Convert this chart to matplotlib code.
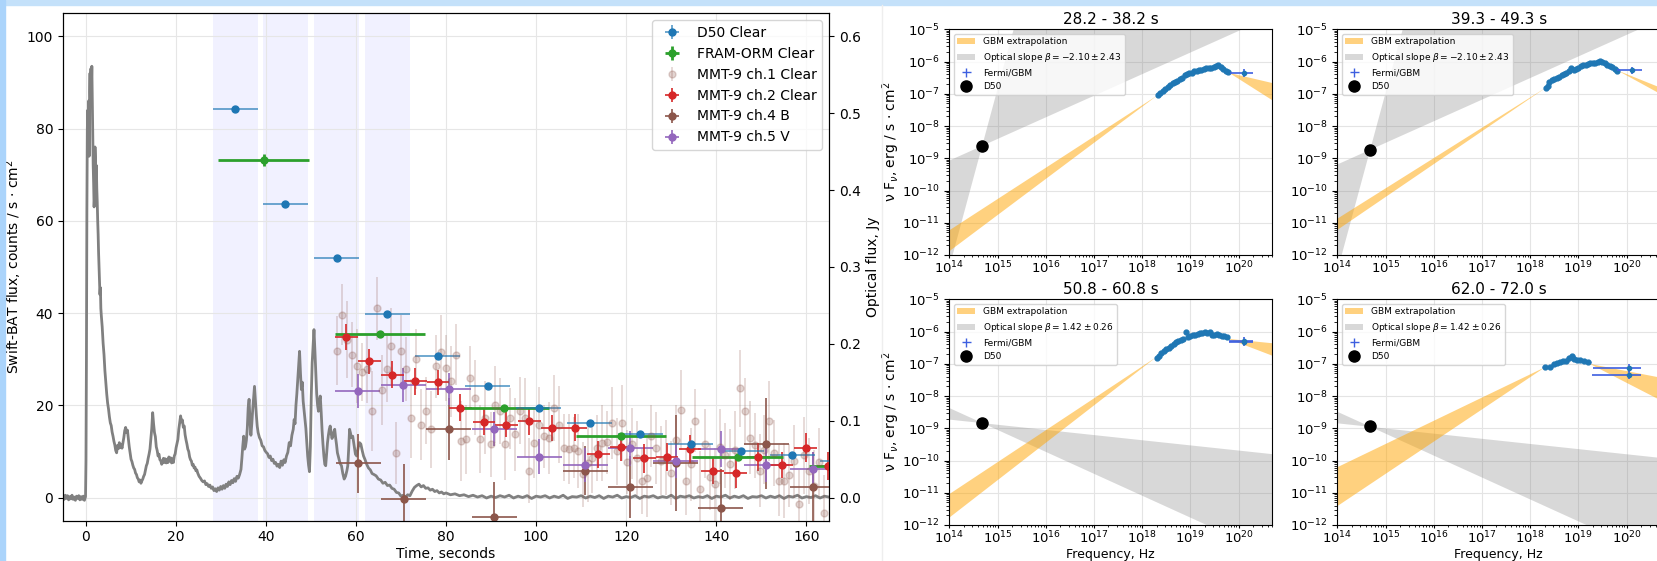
import numpy as np
import matplotlib
matplotlib.use("Agg")
import matplotlib.pyplot as plt
from matplotlib.patches import Rectangle
from matplotlib.lines import Line2D

# ---- Swift-BAT light curve (counts / s cm^2) ----
bat_t = [
    -5.0, -4.75, -4.5, -4.25, -4.0, -3.75, -3.5, -3.25, -3.0, -2.75,
    -2.5, -2.25, -2.0, -1.75, -1.5, -1.25, -1.0, -0.75, -0.5, -0.25,
    0.0, 0.1, 0.2, 0.3, 0.4, 0.5, 0.6, 0.7, 0.8, 0.9,
    1.0, 1.1, 1.2, 1.3, 1.4, 1.5, 1.6, 1.7, 1.8, 1.9,
    2.0, 2.1, 2.2, 2.3, 2.4, 2.5, 2.6, 2.7, 2.8, 2.9,
    3.0, 3.1, 3.2, 3.3, 3.4, 3.5, 3.7, 3.9, 4.1, 4.3,
    4.5, 4.7, 4.9, 5.1, 5.3, 5.5, 5.7, 5.9, 6.1, 6.3,
    6.5, 6.7, 6.9, 7.1, 7.3, 7.5, 7.7, 7.9, 8.1, 8.3,
    8.5, 8.7, 8.9, 9.1, 9.3, 9.5, 9.7, 9.9, 10.1, 10.3,
    10.5, 10.7, 10.9, 11.1, 11.3, 11.5, 11.7, 11.9, 12.1, 12.3,
    12.5, 12.7, 12.9, 13.1, 13.3, 13.5, 13.7, 13.9, 14.1, 14.3,
    14.5, 14.7, 14.9, 15.1, 15.3, 15.5, 15.7, 15.9, 16.1, 16.3,
    16.5, 16.7, 16.9, 17.1, 17.3, 17.5, 17.7, 17.9, 18.1, 18.3,
    18.5, 18.7, 18.9, 19.1, 19.3, 19.5, 19.7, 19.9, 20.1, 20.3,
    20.5, 20.7, 20.9, 21.1, 21.3, 21.5, 21.7, 21.9, 22.1, 22.3,
    22.5, 22.7, 22.9, 23.1, 23.3, 23.5, 23.7, 23.9, 24.1, 24.3,
    24.5, 24.7, 24.9, 25.2, 25.5, 25.8, 26.1, 26.4, 26.7, 27.0,
    27.3, 27.6, 27.9, 28.2, 28.5, 28.8, 29.1, 29.4, 29.7, 30.0,
    30.3, 30.6, 30.9, 31.2, 31.5, 31.8, 32.1, 32.4, 32.7, 33.0,
    33.3, 33.6, 33.9, 34.2, 34.5, 34.7, 34.9, 35.1, 35.3, 35.5,
    35.7, 35.9, 36.1, 36.3, 36.5, 36.7, 36.9, 37.1, 37.3, 37.5,
    37.7, 37.9, 38.1, 38.3, 38.6, 38.9, 39.2, 39.5, 39.8, 40.1,
    40.4, 40.7, 41.0, 41.3, 41.6, 41.9, 42.2, 42.5, 42.8, 43.1,
    43.4, 43.7, 44.0, 44.3, 44.6, 44.9, 45.2, 45.5, 45.8, 46.1,
    46.3, 46.5, 46.7, 46.9, 47.1, 47.3, 47.5, 47.7, 47.9, 48.1,
    48.3, 48.5, 48.7, 48.9, 49.1, 49.3, 49.5, 49.7, 49.9, 50.1,
    50.3, 50.5, 50.7, 50.9, 51.1, 51.3, 51.5, 51.7, 51.9, 52.1,
    52.3, 52.5, 52.7, 52.9, 53.1, 53.3, 53.5, 53.7, 53.9, 54.1,
    54.3, 54.5, 54.7, 54.9, 55.1, 55.3, 55.5, 55.7, 55.9, 56.2,
    56.5, 56.8, 57.1, 57.4, 57.7, 58.0, 58.2, 58.4, 58.6, 58.8,
    59.0, 59.3, 59.6, 59.9, 60.2, 60.5, 60.8, 61.1, 61.4, 61.7,
    62.0, 62.4, 62.8, 63.2, 63.6, 64.0, 64.5, 65.0, 65.5, 66.0,
    66.5, 67.0, 67.5, 68.0, 68.5, 69.0, 69.5, 70.0, 70.5, 71.0,
    71.5, 72.0, 72.5, 73.0, 73.5, 74.0, 74.5, 75.0, 75.5, 76.0,
    76.5, 77.0, 77.5, 78.0, 78.5, 79.0, 79.5, 80.0, 81.0, 82.0,
    83.0, 84.0, 85.0, 86.0, 87.0, 88.0, 89.0, 90.0, 91.0, 92.0,
    93.0, 94.0, 95.0, 96.0, 97.0, 98.0, 99.0, 100.0, 101.0, 102.0,
    103.0, 104.0, 105.0, 106.0, 107.0, 108.0, 109.0, 110.0, 111.0, 112.0,
    113.0, 114.0, 115.0, 116.0, 117.0, 118.0, 119.0, 120.0, 121.0, 122.0,
    123.0, 124.0, 125.0, 126.0, 127.0, 128.0, 129.0, 130.0, 131.0, 132.0,
    133.0, 134.0, 135.0, 136.0, 137.0, 138.0, 139.0, 140.0, 141.0, 142.0,
    143.0, 144.0, 145.0, 146.0, 147.0, 148.0, 149.0, 150.0, 151.0, 152.0,
    153.0, 154.0, 155.0, 156.0, 157.0, 158.0, 159.0, 160.0, 161.0, 162.0,
    163.0, 164.0, 165.0, 166.0,
]
bat_rate = [
    0.3, -0.4, 0.5, -0.2, 0.4, -0.5, 0.2, -0.3, 0.5, -0.4,
    0.1, -0.6, 0.3, -0.2, 0.4, -0.5, 0.2, -0.4, 0.3, -0.6,
    0.2, 8.0, 30.0, 62.0, 80.0, 84.0, 78.0, 86.0, 74.0, 88.0,
    92.0, 85.0, 93.0, 89.0, 93.5, 86.0, 80.0, 72.0, 68.0, 63.0,
    65.0, 76.0, 73.0, 69.0, 72.0, 67.0, 64.0, 60.0, 57.0, 53.0,
    50.0, 47.0, 44.0, 45.5, 41.0, 39.5, 37.0, 33.5, 31.0, 27.5,
    25.0, 22.5, 20.5, 19.2, 17.5, 16.2, 15.6, 14.2, 13.3, 12.2,
    11.4, 10.2, 9.7, 11.3, 10.6, 11.9, 10.8, 11.5, 10.7, 11.8,
    13.0, 14.5, 15.2, 14.1, 14.6, 12.8, 11.0, 9.6, 8.3, 7.8,
    7.0, 6.4, 6.1, 5.3, 5.0, 4.3, 4.0, 3.4, 3.8, 3.1,
    3.6, 4.0, 4.6, 5.0, 5.9, 6.9, 7.4, 8.5, 9.4, 10.5,
    12.8, 15.0, 18.4, 16.0, 14.1, 13.2, 11.0, 10.2, 9.0, 9.4,
    8.2, 8.0, 7.2, 7.6, 8.5, 7.6, 8.4, 7.5, 8.2, 7.6,
    8.8, 7.9, 8.6, 7.5, 8.4, 7.6, 9.0, 9.5, 10.8, 11.7,
    12.6, 14.8, 16.2, 17.7, 16.4, 16.8, 15.2, 15.5, 13.6, 12.5,
    11.6, 10.5, 10.0, 8.8, 8.2, 7.9, 7.0, 7.2, 6.4, 6.6,
    5.8, 6.0, 5.3, 4.6, 4.2, 3.7, 3.4, 3.6, 2.8, 3.0,
    2.4, 2.7, 2.0, 2.3, 1.5, 1.9, 1.3, 2.1, 1.6, 2.4,
    1.8, 2.6, 2.0, 2.9, 2.4, 3.4, 2.8, 3.7, 3.2, 4.1,
    3.5, 4.6, 4.2, 5.0, 6.1, 8.5, 11.2, 13.3, 10.5, 11.0,
    12.4, 15.0, 19.5, 21.3, 16.5, 13.5, 16.0, 19.0, 21.5, 24.1,
    21.0, 18.0, 15.5, 14.1, 13.0, 12.4, 11.2, 11.0, 10.2, 9.8,
    9.5, 8.7, 9.0, 8.0, 8.3, 7.4, 7.6, 6.8, 7.2, 6.5,
    7.9, 7.0, 8.2, 7.6, 9.0, 9.8, 11.9, 11.2, 13.5, 14.8,
    16.9, 16.0, 20.0, 22.5, 25.6, 29.0, 31.7, 27.0, 23.4, 25.0,
    20.9, 19.0, 17.0, 15.0, 12.0, 9.0, 7.0, 5.6, 11.0, 22.0,
    29.2, 33.0, 36.4, 32.0, 27.0, 22.5, 20.0, 18.7, 21.0, 22.0,
    18.5, 14.5, 11.5, 9.0, 7.2, 6.9, 9.5, 11.9, 13.5, 14.8,
    15.5, 14.0, 12.8, 13.3, 14.2, 14.8, 13.0, 11.5, 9.7, 8.5,
    7.4, 6.9, 5.2, 4.0, 4.6, 5.8, 6.9, 10.5, 14.8, 14.0,
    13.0, 13.3, 11.4, 9.4, 9.0, 10.8, 11.9, 11.6, 10.2, 9.0,
    8.3, 7.2, 6.4, 6.0, 5.2, 5.0, 4.7, 4.0, 3.8, 3.1,
    3.3, 2.6, 2.7, 2.0, 1.8, 1.1, 1.0, 0.3, 0.5, 0.1,
    0.6, 0.4, 1.4, 2.2, 2.6, 2.9, 2.3, 2.6, 2.0, 2.1,
    1.6, 1.8, 1.3, 1.5, 1.0, 1.2, 0.8, 1.0, 0.6, 0.8,
    0.4, 0.6, 0.2, 0.5, 0.1, 0.4, -0.1, 0.3, 0.0, 0.4,
    0.1, 0.5, -0.1, 0.3, 0.0, 0.4, -0.2, 0.3, 0.1, 0.4,
    -0.1, 0.3, 0.0, 0.5, -0.2, 0.2, 0.1, 0.4, -0.1, 0.3,
    0.0, 0.4, -0.2, 0.3, 0.1, 0.5, -0.1, 0.2, 0.0, 0.4,
    -0.2, 0.3, 0.1, 0.4, -0.1, 0.2, 0.0, 0.5, -0.2, 0.3,
    0.1, 0.4, -0.1, 0.2, 0.0, 0.4, -0.2, 0.3, 0.1, 0.5,
    -0.1, 0.3, 0.0, 0.4, -0.2, 0.2, 0.1, 0.4, -0.1, 0.3,
    0.0, 0.4, -0.2, 0.3, 0.1, 0.5, -0.1, 0.2, 0.0, 0.4,
    -0.1, 0.3, 0.1, 0.2,
]

# ---- SED time windows, s ----
win_lo = [28.2, 39.3, 50.8, 62.0]
win_hi = [38.2, 49.3, 60.8, 72.0]

# ---- optical photometry, Jy ----
d50_t = [33.2, 44.3, 55.8, 67.0, 78.2, 89.3, 100.6, 111.9, 123.1, 134.3, 145.5, 156.8, 168.0]
d50_f = [0.505, 0.382, 0.311, 0.2385, 0.184, 0.145, 0.117, 0.097, 0.082, 0.070, 0.060, 0.055, 0.048]
d50_e = [0.003, 0.003, 0.003, 0.002, 0.002, 0.002, 0.002, 0.002, 0.002, 0.002, 0.002, 0.002, 0.002]

fram_t = [39.5, 65.3, 92.9, 118.8, 144.7, 170.6]
fram_f = [0.439, 0.213, 0.117, 0.080, 0.053, 0.041]
fram_e = [0.008, 0.004, 0.003, 0.003, 0.003, 0.003]

ch1_t = [55.8, 56.9, 58.0, 59.1, 60.2, 61.3, 62.4, 63.5, 64.6, 65.7,
         66.8, 67.9, 69.0, 70.1, 71.2, 72.3, 73.4, 74.5, 75.6, 76.7,
         77.8, 78.9, 80.0, 81.1, 82.2, 83.3, 84.4, 85.4, 86.5, 87.6,
         88.7, 89.9, 90.9, 92.0, 93.1, 94.2, 95.3, 96.4, 97.5, 98.5,
         99.6, 100.7, 101.8, 102.9, 104.0, 105.1, 106.2, 107.3, 108.3, 109.4,
         110.5, 111.5, 112.5, 113.6, 114.7, 115.8, 116.9, 118.0, 119.1, 120.2,
         121.3, 122.4, 123.5, 124.6, 125.6, 126.7, 127.8, 128.9, 130.0, 131.0,
         132.1, 133.2, 134.3, 135.3, 136.4, 137.5, 138.5, 139.7, 140.8, 141.9,
         143.0, 144.1, 145.2, 146.3, 147.4, 148.5, 149.6, 150.6, 151.7, 152.8,
         153.9, 155.0, 156.1, 157.2, 158.3, 159.4, 160.5, 161.6, 162.7, 163.8]
ch1_f = [0.191, 0.238, 0.205, 0.186, 0.171, 0.163, 0.167, 0.113, 0.246, 0.140,
         0.167, 0.197, 0.058, 0.190, 0.167, 0.103, 0.180, 0.095, 0.113, 0.089,
         0.171, 0.189, 0.169, 0.151, 0.186, 0.074, 0.076, 0.156, 0.130, 0.076,
         0.104, 0.069, 0.121, 0.113, 0.069, 0.103, 0.082, 0.113, 0.104, 0.035,
         0.071, 0.095, 0.080, 0.077, 0.117, 0.095, 0.065, 0.063, 0.065, 0.061,
         0.030, 0.045, 0.051, 0.065, 0.071, 0.072, 0.097, 0.060, 0.097, 0.046,
         0.070, 0.051, 0.022, 0.026, 0.080, 0.064, 0.048, 0.052, 0.032, 0.075,
         0.114, 0.021, 0.043, 0.100, 0.011, 0.070, 0.027, 0.017, 0.066, 0.055,
         0.043, 0.062, 0.142, 0.112, 0.078, 0.068, 0.035, 0.062, 0.099, 0.058,
         0.022, 0.022, 0.029, 0.047, -0.008, 0.055, 0.034, 0.015, 0.046, -0.020]
ch1_e = [0.045, 0.040, 0.050, 0.042, 0.048, 0.038, 0.044, 0.052, 0.041, 0.046,
         0.043, 0.049, 0.040, 0.047, 0.042, 0.051, 0.039, 0.046, 0.044, 0.050,
         0.041, 0.048, 0.043, 0.046, 0.040, 0.052, 0.045, 0.041, 0.049, 0.044,
         0.047, 0.042, 0.050, 0.043, 0.046, 0.040, 0.048, 0.044, 0.051, 0.042,
         0.045, 0.049, 0.041, 0.047, 0.043, 0.050, 0.044, 0.046, 0.040, 0.048,
         0.042, 0.051, 0.045, 0.043, 0.049, 0.041, 0.047, 0.044, 0.050, 0.042,
         0.046, 0.048, 0.043, 0.051, 0.040, 0.047, 0.045, 0.049, 0.042, 0.046,
         0.052, 0.044, 0.048, 0.041, 0.050, 0.045, 0.043, 0.047, 0.049, 0.042,
         0.046, 0.051, 0.050, 0.044, 0.048, 0.042, 0.047, 0.045, 0.052, 0.043,
         0.046, 0.049, 0.041, 0.048, 0.044, 0.050, 0.043, 0.047, 0.045, 0.049]

ch2_t = [57.9, 63.0, 68.1, 73.2, 78.2, 83.2, 88.4, 93.4, 98.5, 103.6, 108.7,
         113.8, 118.8, 124.0, 129.0, 134.1, 139.2, 144.3, 149.3, 154.5, 159.8, 164.8]
ch2_f = [0.209, 0.177, 0.160, 0.151, 0.150, 0.117, 0.098, 0.095, 0.099, 0.091, 0.091,
         0.056, 0.066, 0.051, 0.053, 0.063, 0.035, 0.032, 0.053, 0.042, 0.065, 0.041]
ch2_e = [0.017, 0.016, 0.017, 0.017, 0.016, 0.018, 0.017, 0.016, 0.018, 0.017, 0.018,
         0.017, 0.018, 0.019, 0.018, 0.018, 0.017, 0.019, 0.018, 0.017, 0.019, 0.018]

ch4_t = [60.5, 70.6, 80.6, 90.7, 110.9, 120.9, 131.0, 141.0, 151.1, 161.4]
ch4_f = [0.0445, -0.002, 0.089, -0.025, 0.035, 0.014, 0.045, -0.0135, 0.070, 0.014]
ch4_e = [0.038, 0.045, 0.040, 0.045, 0.032, 0.040, 0.063, 0.050, 0.059, 0.045]

ch5_t = [60.4, 70.5, 80.6, 90.7, 100.7, 110.9, 120.9, 131.0, 141.0, 151.1, 161.4]
ch5_f = [0.139, 0.146, 0.141, 0.089, 0.053, 0.042, 0.064, 0.048, 0.063, 0.042, 0.037]
ch5_e = [0.022, 0.022, 0.021, 0.022, 0.023, 0.022, 0.023, 0.022, 0.023, 0.022, 0.022]

# half exposures, s
d50_dt, fram_dt, ch2_dt, ch5_dt = 5.0, 10.0, 2.5, 5.0

# ---- SED inputs ----
NU_CLEAR = 4.8e14                        # effective frequency of the Clear band, Hz
beta = [-2.10, -2.10, 1.42, 1.42]
beta_err = [2.43, 2.43, 0.26, 0.26]

# GBM spectral fits, extrapolated as power-law bow-ties (log10 nu, log10 nuFnu, slopes)
ext_lo_nu = [18.30, 18.33, 18.28, 18.30]
ext_lo_f = [-7.04, -6.78, -6.78, -7.09]
ext_lo_s1 = [0.97, 0.94, 0.99, 0.72]
ext_lo_s2 = [1.12, 1.02, 1.16, 1.00]
ext_hi_nu = [19.80, 19.80, 19.77, 19.23]
ext_hi_f = [-6.34, -6.26, -6.21, -6.99]
ext_hi_s1 = [-0.35, -0.60, -0.15, -0.29]
ext_hi_s2 = [-0.95, -0.82, -0.57, -0.77]

# Fermi/GBM NaI spectra (log10 nu, log10 nuFnu)
gbm1_nu = [18.33, 18.38, 18.43, 18.48, 18.53, 18.58, 18.63, 18.68, 18.73, 18.78,
           18.83, 18.88, 18.93, 18.98, 19.03, 19.08, 19.13, 19.18, 19.23, 19.28,
           19.33, 19.38, 19.43, 19.48, 19.53, 19.58, 19.63, 19.68, 19.73, 19.78]
gbm1_f = [-7.04, -6.98, -6.92, -6.85, -6.78, -6.73, -6.68, -6.62, -6.60, -6.55,
          -6.50, -6.42, -6.38, -6.36, -6.34, -6.30, -6.28, -6.25, -6.27, -6.22,
          -6.20, -6.19, -6.20, -6.17, -6.15, -6.12, -6.18, -6.22, -6.28, -6.33]
gbm2_nu = [18.33, 18.36, 18.40, 18.45, 18.50, 18.55, 18.60, 18.65, 18.70, 18.75,
           18.80, 18.85, 18.90, 18.95, 19.00, 19.05, 19.10, 19.15, 19.20, 19.25,
           19.30, 19.35, 19.40, 19.45, 19.50, 19.55, 19.60, 19.65, 19.70, 19.75, 19.80]
gbm2_f = [-6.82, -6.75, -6.62, -6.58, -6.55, -6.52, -6.48, -6.42, -6.40, -6.35,
          -6.30, -6.20, -6.25, -6.22, -6.20, -6.15, -6.12, -6.10, -6.08, -6.06,
          -6.05, -6.03, -6.02, -5.98, -6.00, -6.04, -6.10, -6.14, -6.18, -6.24, -6.28]
gbm3_nu = [18.30, 18.35, 18.40, 18.45, 18.50, 18.55, 18.60, 18.65, 18.70, 18.75,
           18.80, 18.85, 18.90, 18.95, 19.00, 19.05, 19.10, 19.15, 19.20, 19.25,
           19.30, 19.35, 19.40, 19.45, 19.50, 19.55, 19.60, 19.65, 19.70, 19.75]
gbm3_f = [-6.82, -6.75, -6.65, -6.60, -6.55, -6.50, -6.45, -6.38, -6.33, -6.30,
          -6.27, -6.22, -6.00, -6.18, -6.15, -6.12, -6.10, -6.07, -6.06, -6.03,
          -6.00, -6.04, -6.02, -6.10, -6.12, -6.08, -6.12, -6.15, -6.15, -6.18]
gbm4_nu = [18.30, 18.42, 18.50, 18.56, 18.62, 18.68, 18.74, 18.81, 18.86, 18.91,
           18.97, 19.04, 19.12, 19.20]
gbm4_f = [-7.11, -7.09, -7.02, -6.97, -6.93, -6.92, -6.90, -6.83, -6.76, -6.84,
          -6.87, -6.88, -6.90, -6.93]
# BGO points: centre, value, and x-range (log10)
bgo_nu = [[20.12], [20.12], [20.12, 20.12], [20.04, 20.04]]
bgo_f = [[-6.34], [-6.27], [-6.28, -6.33], [-7.12, -7.35]]
bgo_lo = [[19.82], [19.80], [19.80, 19.80], [19.30, 19.28]]
bgo_hi = [[20.30], [20.32], [20.30, 20.30], [20.30, 20.30]]

gbm_nu = [gbm1_nu, gbm2_nu, gbm3_nu, gbm4_nu]
gbm_f = [gbm1_f, gbm2_f, gbm3_f, gbm4_f]
gbm_dex = [0.03, 0.03, 0.03, 0.06]

W, H = 1658, 561
FS = 10


def px_axes(fig, x0, y0, x1, y1):
    return fig.add_axes([x0 / W, 1 - y1 / H, (x1 - x0) / W, (y1 - y0) / H])


def sed_panel(ax, k, xlabel, ylabel):
    # optical slope bow-tie through the D50 point
    f_opt = NU_CLEAR * d50_f[k] * 1e-23
    xs = np.array([1e14, NU_CLEAR, 1e21])
    s1 = 1 - beta[k] - beta_err[k]
    s2 = 1 - beta[k] + beta_err[k]
    gray = ax.fill_between(xs, f_opt * (xs / NU_CLEAR) ** s1, f_opt * (xs / NU_CLEAR) ** s2,
                           color="gray", alpha=0.3, lw=0,
                           label=r"Optical slope $\beta = %.2f \pm %.2f$" % (beta[k], beta_err[k]))
    # GBM fit extrapolated down to the optical and up past the BGO range
    nl, fl = 10 ** ext_lo_nu[k], 10 ** ext_lo_f[k]
    xl = np.array([1e14, nl])
    orange = ax.fill_between(xl, fl * (xl / nl) ** ext_lo_s1[k], fl * (xl / nl) ** ext_lo_s2[k],
                             color="orange", alpha=0.5, lw=0, label="GBM extrapolation")
    nh, fh = 10 ** ext_hi_nu[k], 10 ** ext_hi_f[k]
    xh = np.array([nh, 1e21])
    ax.fill_between(xh, fh * (xh / nh) ** ext_hi_s1[k], fh * (xh / nh) ** ext_hi_s2[k],
                    color="orange", alpha=0.5, lw=0)

    nu = 10.0 ** np.asarray(gbm_nu[k])
    fl_ = 10.0 ** np.asarray(gbm_f[k])
    d = gbm_dex[k]
    xerr = [nu * (1 - 10 ** -d), nu * (10 ** d - 1)]
    yerr = [fl_ * (1 - 10 ** -0.04), fl_ * (10 ** 0.04 - 1)]
    gbm = ax.errorbar(nu, fl_, xerr=xerr, yerr=yerr, fmt="none", ecolor="#3d5fe0",
                      elinewidth=1.0, label="Fermi/GBM", zorder=4)
    ax.plot(nu, fl_, "o", color="C0", ms=3.5, zorder=5)
    bn = 10.0 ** np.asarray(bgo_nu[k])
    bf = 10.0 ** np.asarray(bgo_f[k])
    bx = [bn - 10.0 ** np.asarray(bgo_lo[k]), 10.0 ** np.asarray(bgo_hi[k]) - bn]
    ax.errorbar(bn, bf, xerr=bx, yerr=[bf * 0.25, bf * 0.3], fmt="o", ms=3, color="C0",
                ecolor="#3d5fe0", elinewidth=1.2, zorder=5)

    d50, = ax.plot([NU_CLEAR], [f_opt], "o", color="k", ms=8, label="D50", zorder=6)

    ax.set_xscale("log")
    ax.set_yscale("log")
    ax.set_xlim(1e14, 5e20)
    ax.set_ylim(1e-12, 1e-5)
    ax.grid(True, which="major", color="#e4e4e4", lw=0.8)
    ax.set_axisbelow(True)
    ax.tick_params(labelsize=9.5)
    ax.tick_params(axis="x", which="major", length=2.5, pad=1)
    ax.tick_params(axis="x", which="minor", length=1.5)
    ax.set_title("%.1f - %.1f s" % (win_lo[k], win_hi[k]), fontsize=11, pad=4)
    if ylabel:
        ax.set_ylabel("ν F$_{\\nu}$, erg / s · cm$^2$", fontsize=FS)
        ax.yaxis.set_label_coords(-0.145, 0.5)
    if xlabel:
        ax.set_xlabel("Frequency, Hz", fontsize=9, labelpad=1)
    ax.legend(handles=[orange, gray, gbm, d50], loc="upper left", fontsize=6.5,
              framealpha=0.8)


fig = plt.figure(figsize=(W / 100, H / 100), dpi=100)
fig.patches.append(Rectangle((0, 1 - 5 / H), 1, 5 / H, transform=fig.transFigure,
                             color="#c4e1fa", zorder=0))
fig.patches.append(Rectangle((0, 0), 5 / W, 1, transform=fig.transFigure,
                             color="#abd4fb", zorder=0))
fig.add_artist(Line2D([882 / W, 882 / W], [0, 1 - 5 / H], color="#eeeeee", lw=1))

# ---- light curve + optical fluxes ----
ax = px_axes(fig, 63, 13.2, 829, 520.6)
for lo, hi in zip(win_lo, win_hi):
    ax.axvspan(lo, hi, color="blue", alpha=0.055, lw=0, zorder=0)
ax.plot(bat_t, bat_rate, color="gray", lw=2.0, zorder=2)
ax.set_xlim(-5, 165)
ax.set_ylim(-5, 105)
ax.set_xticks(range(0, 161, 20))
ax.set_yticks(range(0, 101, 20))
ax.grid(True, color="#e6e6e6", lw=0.8)
ax.set_axisbelow(True)
ax.tick_params(labelsize=FS)
ax.set_xlabel("Time, seconds", fontsize=FS, labelpad=2)
ax.set_ylabel("Swift-BAT flux, counts / s · cm$^2$", fontsize=FS, labelpad=2)

ax2 = ax.twinx()
ax2.set_ylim(-0.03, 0.63)
ax2.tick_params(labelsize=FS)
ax2.set_ylabel("Optical flux, Jy", fontsize=FS)

h1 = ax2.errorbar(ch1_t, ch1_f, yerr=ch1_e, fmt="o", ms=5, color="C5", alpha=0.25,
                  elinewidth=1.2, label="MMT-9 ch.1 Clear")
h4 = ax2.errorbar(ch4_t, ch4_f, xerr=ch5_dt, yerr=ch4_e, fmt="o", ms=5, color="C5",
                  elinewidth=1.2, label="MMT-9 ch.4 B")
h5 = ax2.errorbar(ch5_t, ch5_f, xerr=ch5_dt, yerr=ch5_e, fmt="o", ms=5, color="C4",
                  elinewidth=1.2, label="MMT-9 ch.5 V")
h2 = ax2.errorbar(ch2_t, ch2_f, xerr=ch2_dt, yerr=ch2_e, fmt="o", ms=5, color="C3",
                  elinewidth=1.2, label="MMT-9 ch.2 Clear")
hf = ax2.errorbar(fram_t, fram_f, xerr=fram_dt, yerr=fram_e, fmt="o", ms=5, color="C2",
                  elinewidth=2.0, label="FRAM-ORM Clear")
hd = ax2.errorbar(d50_t, d50_f, xerr=d50_dt, yerr=d50_e, fmt="o", ms=5, color="C0",
                  ecolor=(0.12, 0.47, 0.71, 0.75), elinewidth=1.2, label="D50 Clear")
ax2.legend(handles=[hd, hf, h1, h2, h4, h5], loc="upper right", fontsize=FS)

# ---- broadband SEDs for the four windows ----
sed_boxes = [(949.3, 29.3), (1337.3, 29.3), (949.3, 299.3), (1337.3, 299.3)]
for k, (x0, y0) in enumerate(sed_boxes):
    sax = px_axes(fig, x0, y0, x0 + 323, y0 + 225.7)
    sed_panel(sax, k, xlabel=k >= 2, ylabel=k % 2 == 0)

fig.savefig("out.png", dpi=100)
